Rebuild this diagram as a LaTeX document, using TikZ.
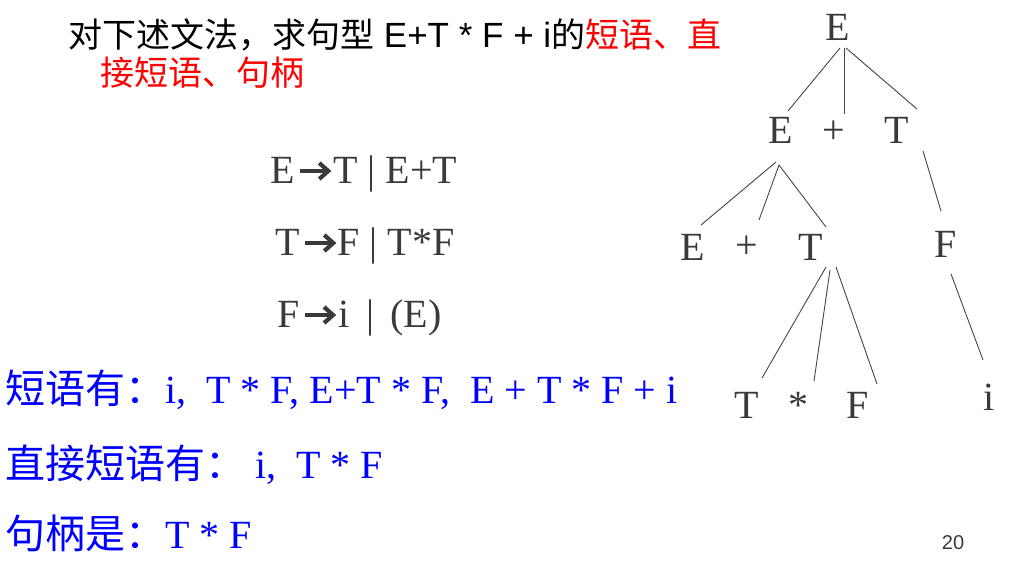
\documentclass[tikz,border=0pt]{standalone}
\usepackage{fontspec}
\setmainfont{Liberation Serif}
\newfontfamily\cjk{Noto Sans CJK SC}
\newfontfamily\arialf{Liberation Sans}
\usetikzlibrary{calc}
\definecolor{gtext}{HTML}{3A3A3A}
\definecolor{gline}{HTML}{444444}
\definecolor{bluet}{HTML}{0000FF}
\definecolor{redt}{HTML}{FF0000}
\newcommand{\harr}{\tikz[baseline={(0pt,-12pt)},x=1pt,y=1pt]{\draw[line width=4.2pt,gtext] (0,0) -- (28,0);\draw[line width=4.2pt,gtext,line join=miter,miter limit=10] (19.5,8) -- (28.5,0) -- (19.5,-8);}}
\tikzset{
  tlab/.style={font=\fontsize{40}{40}\selectfont, text=gtext, inner sep=0pt, anchor=base},
  tl/.style={draw=gline, line width=0.9pt},
  title/.style={font=\fontsize{34}{34}\selectfont, inner sep=0pt, anchor=base west},
  gram/.style={font=\fontsize{40}{40}\selectfont, text=gtext, inner sep=0pt, anchor=base west},
  ans/.style={font=\fontsize{40}{40}\selectfont, text=bluet, inner sep=0pt, anchor=base west}
}
\begin{document}
\begin{tikzpicture}[x=1pt,y=-1pt]
\useasboundingbox (0,0) rectangle (1016,560);
% title
\node[title] (h1) at (68,47) {{\cjk 对下述文法，求句型}{\arialf\fontsize{35}{35}\selectfont{} E+T * F + i}{\cjk 的\textcolor{redt}{短语、直}}};
\node[title,text=redt] (h2) at (100,85) {\cjk 接短语、句柄};
% grammar
\node[gram] (g1) at (270,183) {E\hspace{3pt}\harr\hspace{3pt}T | E+T};
\node[gram] (g2) at (275,255) {T\hspace{3pt}\harr\hspace{2pt}F | T*F};
\node[gram] (g3) at (277,327) {F\hspace{3pt}\harr\hspace{3pt}i\hspace{17pt}|\hspace{16pt}(E)};
% answers
\node[ans] (a1) at (5,403) {{\cjk 短语有：}i,\ \ T * F, E+T * F,\ \ E + T * F + i};
\node[ans] (a2) at (5,478) {{\cjk 直接短语有：}\ i,\ \ T * F};
\node[ans] (a3) at (5,548) {{\cjk 句柄是：}T * F};
% tree
\node[tlab] (r) at (838,40) {E};
\node[tlab] (e1) at (781,143) {E};
\node[tlab] (p1) at (834,143) {+};
\node[tlab] (t1) at (897,143) {T};
\node[tlab] (e2) at (693,260) {E};
\node[tlab] (p2) at (747,258) {+};
\node[tlab] (t2) at (811,260) {T};
\node[tlab] (f2) at (946,257) {F};
\node[tlab] (t3) at (747,418) {T};
\node[tlab] (s3) at (798,418) {*};
\node[tlab] (f3) at (858,418) {F};
\node[tlab] (i3) at (989,410) {i};
\draw[tl] ($(r.base)+(2,8)$) -- ($(e1.base)+(7,-32)$);
\draw[tl] ($(r.base)+(6,8)$) -- ($(p1.base)+(10,-29)$);
\draw[tl] ($(r.base)+(8,8)$) -- ($(t1.base)+(20,-34)$);
\draw[tl] ($(e1.base)+(-5,19)$) -- ($(e2.base)+(8,-35)$);
\draw[tl] ($(e1.base)+(-2,22)$) -- ($(p2.base)+(12,-38)$);
\draw[tl] ($(e1.base)+(-2,22)$) -- ($(t2.base)+(15,-33)$);
\draw[tl] ($(t1.base)+(26,8)$) -- ($(f2.base)+(-5,-46)$);
\draw[tl] ($(t2.base)+(15,7)$) -- ($(t3.base)+(15,-40)$);
\draw[tl] ($(t2.base)+(19,10)$) -- ($(s3.base)+(16,-37)$);
\draw[tl] ($(t2.base)+(25,7)$) -- ($(f3.base)+(19,-34)$);
\draw[tl] ($(f2.base)+(5,17)$) -- ($(i3.base)+(-6,-50)$);
% page number
\node[font=\arialf\fontsize{20}{20}\selectfont, text=gtext, inner sep=0pt] (pg) at (953,543) {20};
\end{tikzpicture}
\end{document}
